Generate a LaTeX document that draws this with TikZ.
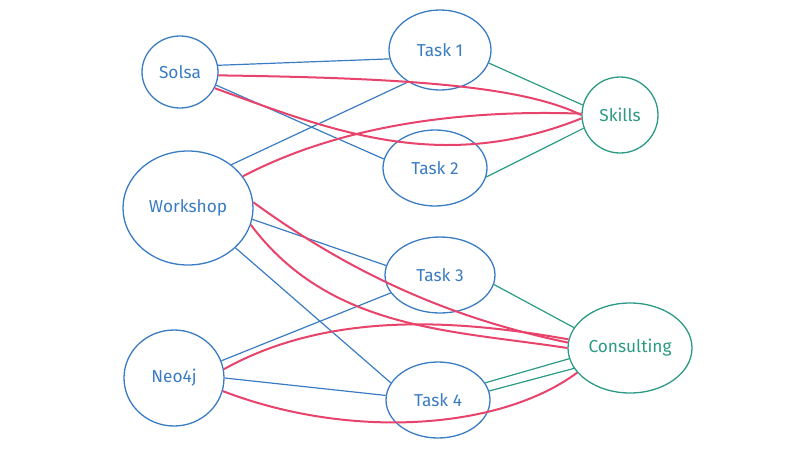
\documentclass[tikz,border=0pt]{standalone}
\usepackage{fontspec}
\setmainfont{Fira Sans}
\usetikzlibrary{shapes.geometric}
\definecolor{cb}{HTML}{3A7CC3}
\definecolor{cg}{HTML}{2A9A84}
\definecolor{cr}{HTML}{E8436B}
\begin{document}
\begin{tikzpicture}[x=1pt,y=-1pt,
  nd/.style={draw=cb,line width=1.3pt,ellipse,text=cb,font=\LARGE,inner sep=0pt},
  gn/.style={draw=cg,line width=1.3pt,ellipse,text=cg,font=\LARGE,inner sep=0pt},
  bl/.style={cb,line width=1.2pt},
  gl/.style={cg,line width=1.2pt},
  rl/.style={cr,line width=2pt}]
\useasboundingbox (0,0) rectangle (800,450);
\node[nd,minimum width=76,minimum height=72] (solsa) at (180,72) {Solsa};
\node[nd,minimum width=130,minimum height=114] (work) at (188,208) {Workshop};
\node[nd,minimum width=100,minimum height=96] (neo) at (174,378) {Neo4j};
\node[nd,minimum width=102,minimum height=80] (t1) at (440,50) {Task 1};
\node[nd,minimum width=104,minimum height=76] (t2) at (435,168) {Task 2};
\node[nd,minimum width=110,minimum height=76] (t3) at (440,275) {Task 3};
\node[nd,minimum width=104,minimum height=76] (t4) at (438,400) {Task 4};
\node[gn,minimum width=76,minimum height=76] (sk) at (620,115) {Skills};
\node[gn,minimum width=124,minimum height=90] (con) at (630,348) {Consulting};
\draw[bl] (solsa.10) -- (t1.190);
\draw[bl] (solsa.-20) -- (t2.170);
\draw[bl] (work.45) -- (t1.225);
\draw[bl] (work.-10) -- (t3.170);
\draw[bl] (work.-40) -- (t4.160);
\draw[bl] (neo.20) -- (t3.200);
\draw[bl] (neo.0) -- (t4.175);
\draw[gl] (t1.-15) -- (sk.165);
\draw[gl] (t2.-10) -- (sk.200);
\draw[gl] (t3.-10) -- (con.160);
\draw[gl] (t4.10) -- (con.200);
\draw[gl] (t4.20) -- (con.190);
\draw[rl] (solsa.-5) .. controls (400,78) and (520,85) .. (sk.180);
\draw[rl] (solsa.-25) .. controls (330,130) and (440,175) .. (sk.185);
\draw[rl] (work.30) .. controls (350,120) and (480,110) .. (sk.178);
\draw[rl] (work.5) .. controls (360,280) and (460,320) .. (con.175);
\draw[rl] (work.-15) .. controls (330,330) and (450,330) .. (con.180);
\draw[rl] (neo.10) .. controls (330,310) and (460,320) .. (con.172);
\draw[rl] (neo.-15) .. controls (350,440) and (500,430) .. (con.205);
\end{tikzpicture}
\end{document}
